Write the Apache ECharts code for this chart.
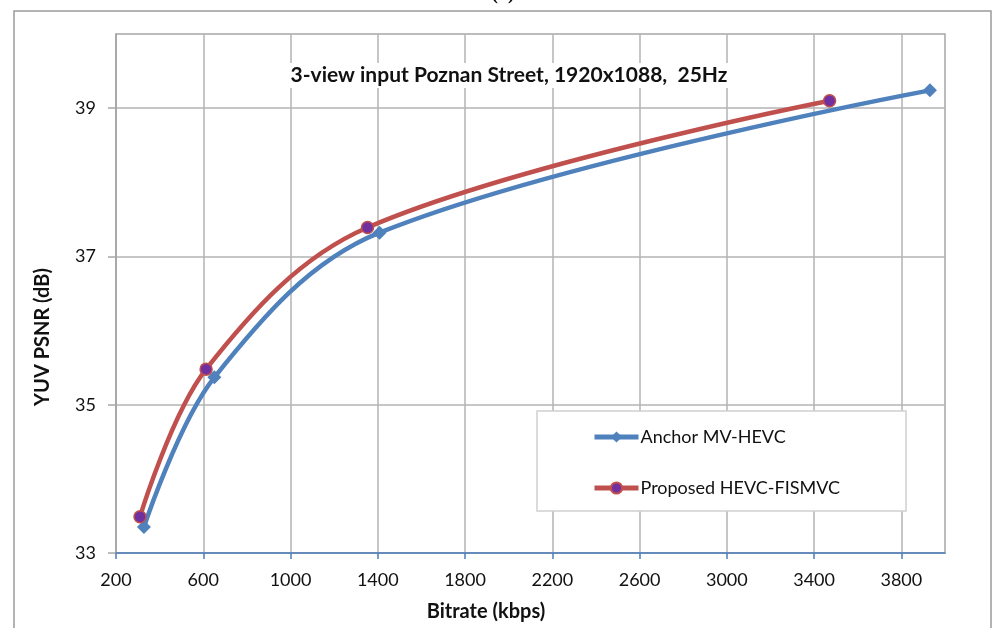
<!DOCTYPE html>
<html><head><meta charset="utf-8">
<script src="https://cdn.jsdelivr.net/npm/echarts@6/dist/echarts.min.js"></script>
<style>html,body{margin:0;padding:0;background:#fff}#c{width:992px;height:628px}</style>
</head><body><div id="c"></div>
<script>
const anchorBitrate = [328, 651, 1408, 3931];
const anchorPsnr = [33.35, 35.37, 37.32, 39.24];
const proposedBitrate = [310, 613, 1353, 3471];
const proposedPsnr = [33.49, 35.48, 37.39, 39.10];
const xTickLabels = [200, 600, 1000, 1400, 1800, 2200, 2600, 3000, 3400, 3800];
const yTickLabels = [33, 35, 37, 39];
const seriesNames = ['Anchor MV-HEVC', 'Proposed HEVC-FISMVC'];

const FONT = 'Lato';
const chart = echarts.init(document.getElementById('c'));
const zip = (a, b) => a.map((v, i) => [v, b[i]]);
chart.setOption({
  animation: false,
  backgroundColor: '#fff',
  textStyle: { fontFamily: FONT },
  title: {
    text: '3-view input Poznan Street, 1920x1088,  25Hz',
    left: 503, top: 63, textAlign: 'center',
    backgroundColor: '#fff', padding: [2, 6],
    textStyle: { fontFamily: FONT, fontWeight: 'bold', fontSize: 21, color: '#111' }
  },
  grid: { left: 116, right: 47, top: 34, bottom: 75, show: true, borderColor: '#a6a6a6', borderWidth: 1.5 },
  legend: {
    left: 592, top: 428, orient: 'vertical',
    padding: 0, itemGap: 33, itemWidth: 44, itemHeight: 14,
    lineStyle: { width: 5 },
    textStyle: { fontFamily: FONT, fontSize: 18, color: '#111', padding: [0, 0, 0, -3] },
    data: seriesNames
  },
  xAxis: {
    type: 'value', min: 200, max: 4000, interval: 200,
    axisLine: { show: true, lineStyle: { color: '#4a7ebb', width: 1.5 } },
    axisTick: { show: true, length: 6, customValues: xTickLabels, lineStyle: { color: '#4a7ebb', width: 1.5 } },
    axisLabel: { customValues: xTickLabels, margin: 18, fontFamily: FONT, fontSize: 18, color: '#111', formatter: v => String(v) },
    splitLine: { show: true, lineStyle: { color: '#b3b3b3', width: 1.5 } }
  },
  yAxis: {
    type: 'value', min: 33, max: 40, interval: 1,
    axisLine: { show: true, lineStyle: { color: '#a6a6a6', width: 1.5 } },
    axisTick: { show: true, inside: false, length: 8, customValues: yTickLabels, lineStyle: { color: '#a6a6a6', width: 1.5 } },
    axisLabel: { customValues: yTickLabels, margin: 20, fontFamily: FONT, fontSize: 18, color: '#111', formatter: v => String(v) },
    splitLine: { show: true, lineStyle: { color: '#b3b3b3', width: 1.5 } }
  },
  graphic: [
    { type: 'rect', z: -10, silent: true, shape: { x: 14, y: 11, width: 977, height: 700 }, style: { fill: 'none', stroke: '#9a9a9a', lineWidth: 1.5 } },
    { type: 'rect', z: 1, silent: true, shape: { x: 537, y: 411, width: 369, height: 100 }, style: { fill: '#fff', stroke: '#d0d0d0', lineWidth: 1.5 } },
    { type: 'text', x: 503, y: -6, style: { text: '(a)', font: 'bold 20px "Liberation Serif"', fill: '#111', textAlign: 'center', textVerticalAlign: 'middle' } },
    { type: 'text', x: 486, y: 612, style: { text: 'Bitrate (kbps)', font: 'bold 20px Lato', fill: '#111', textAlign: 'center', textVerticalAlign: 'middle' } },
    { type: 'text', x: 43, y: 337, rotation: Math.PI / 2, style: { text: 'YUV PSNR (dB)', font: 'bold 20px Lato', fill: '#111', textAlign: 'center', textVerticalAlign: 'middle' } }
  ],
  series: [
    {
      name: seriesNames[0], type: 'line', smooth: 0.35, z: 3,
      data: zip(anchorBitrate, anchorPsnr),
      symbol: 'diamond', symbolSize: 14,
      lineStyle: { color: '#4f81bd', width: 4.5 },
      itemStyle: { color: '#4f81bd' }
    },
    {
      name: seriesNames[1], type: 'line', smooth: 0.35, z: 4,
      data: zip(proposedBitrate, proposedPsnr),
      symbol: 'circle', symbolSize: 12,
      lineStyle: { color: '#c0504d', width: 4.5 },
      itemStyle: { color: '#7030a0', borderColor: '#c0504d', borderWidth: 1.5 }
    }
  ]
});
</script></body></html>
